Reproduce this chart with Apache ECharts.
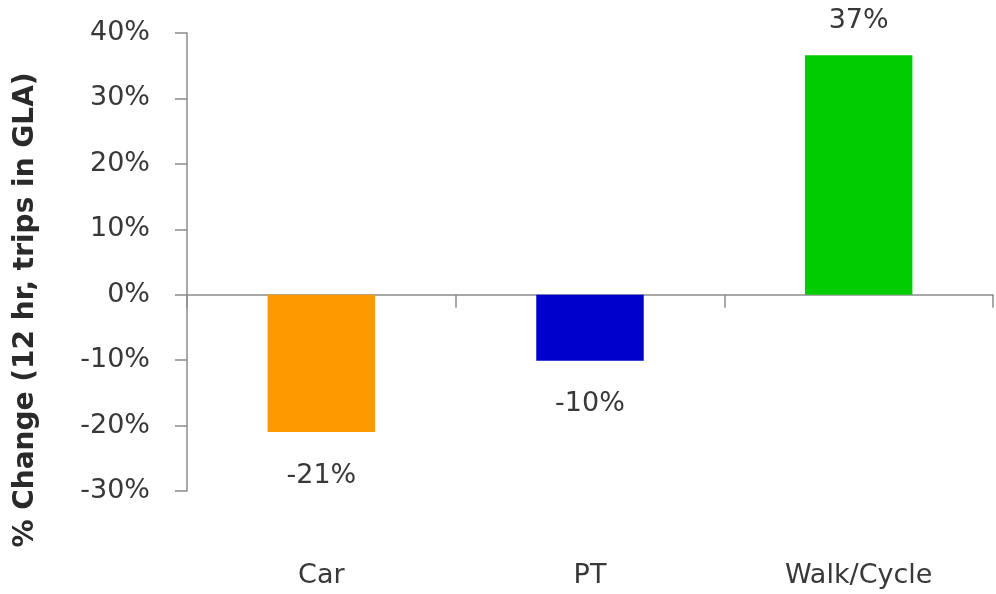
<!DOCTYPE html>
<html>
<head>
<meta charset="utf-8">
<script src="https://cdn.jsdelivr.net/npm/echarts@6/dist/echarts.min.js"></script>
<style>
  html, body { margin: 0; padding: 0; background: #fff; }
  #main { width: 996px; height: 594px; }
</style>
</head>
<body>
<div id="main"></div>
<script>
// 数据
var categories = ['Car', 'PT', 'Walk/Cycle'];
var changeValues = [-21.0, -10.1, 36.6];
var barColors = ['#FF9900', '#0000CC', '#00CC00'];
var yTicks = { min: -30, max: 40, step: 10 };
var yTitle = '% Change (12 hr, trips in GLA)';

var fontName = 'DejaVu Sans';

var chart = echarts.init(document.getElementById('main'));

// 每根柱子的颜色和标签位置
var barData = [];
for (var i = 0; i < changeValues.length; i++) {
    var v = changeValues[i];
    barData.push({
        value: v,
        itemStyle: { color: barColors[i] },
        label: {
            position: v < 0 ? 'bottom' : 'top',
            distance: v < 0 ? 30 : 21
        }
    });
}

var option = {
    animation: false,
    grid: { left: 187, right: 3, top: 33, bottom: 103 },
    xAxis: [
        {
            type: 'category',
            data: categories,
            axisLine: { onZero: true, lineStyle: { color: '#8c8c8c', width: 1.5 } },
            axisTick: { show: true, length: 13, lineStyle: { color: '#8c8c8c', width: 1.5 } },
            axisLabel: { show: false },
            splitLine: { show: false }
        },
        {
            type: 'category',
            data: categories,
            position: 'bottom',
            axisLine: { show: false, onZero: false },
            axisTick: { show: false },
            axisLabel: {
                margin: 71,
                fontFamily: fontName,
                fontSize: 27,
                color: '#383838'
            },
            splitLine: { show: false }
        }
    ],
    yAxis: {
        type: 'value',
        min: yTicks.min,
        max: yTicks.max,
        interval: yTicks.step,
        axisLine: { show: true, lineStyle: { color: '#8c8c8c', width: 1.5 } },
        axisTick: { show: true, length: 12, lineStyle: { color: '#8c8c8c', width: 1.5 } },
        splitLine: { show: false },
        axisLabel: {
            formatter: '{value}%',
            margin: 37,
            fontFamily: fontName,
            fontSize: 27,
            color: '#383838'
        }
    },
    graphic: [
        {
            type: 'text',
            x: 26,
            y: 310,
            rotation: Math.PI / 2,
            style: {
                text: yTitle,
                fontFamily: fontName,
                fontSize: 28,
                fontWeight: 'bold',
                fill: '#2a2a2a',
                textAlign: 'center',
                textVerticalAlign: 'middle'
            }
        }
    ],
    series: [
        {
            type: 'bar',
            xAxisIndex: 0,
            data: barData,
            barWidth: '40%',
            label: {
                show: true,
                fontFamily: fontName,
                fontSize: 27,
                color: '#383838',
                formatter: function (p) { return Math.round(p.value) + '%'; }
            }
        }
    ]
};

chart.setOption(option);
</script>
</body>
</html>
